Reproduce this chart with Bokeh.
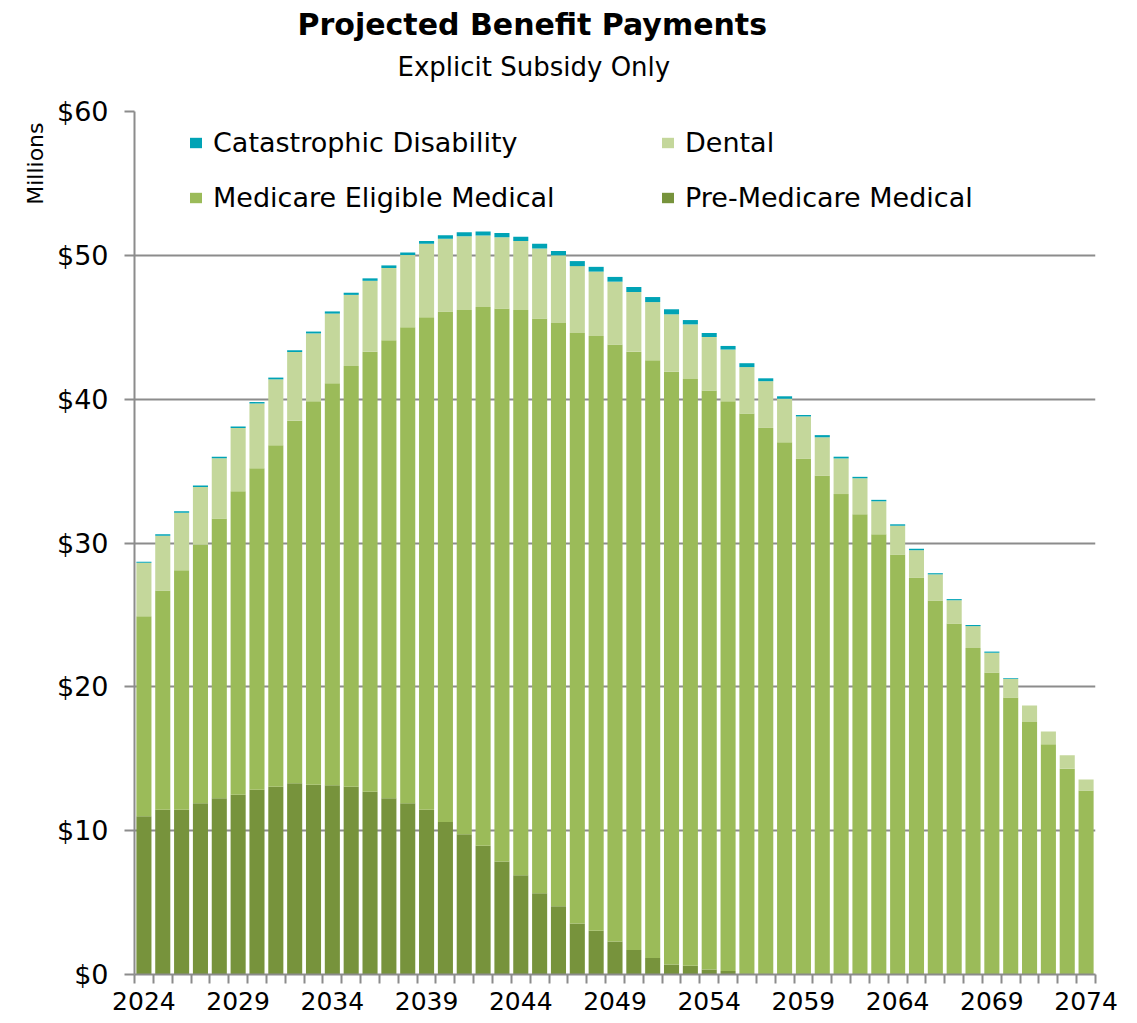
from bokeh.plotting import figure
from bokeh.models import ColumnDataSource, Legend, LegendItem, FixedTicker, NumeralTickFormatter, Title, Range1d
from bokeh.embed import file_html
from bokeh.resources import INLINE

years = list(range(2024, 2075))
pre_medicare = [11.0, 11.45, 11.45, 11.9, 12.25, 12.5, 12.85, 13.05, 13.3, 13.2,
                13.15, 13.05, 12.7, 12.25, 11.9, 11.45, 10.6, 9.75, 8.95, 7.85,
                6.9, 5.65, 4.75, 3.55, 3.05, 2.3, 1.7, 1.15, 0.7, 0.6,
                0.35, 0.25, 0, 0, 0, 0, 0, 0, 0, 0,
                0, 0, 0, 0, 0, 0, 0, 0, 0, 0, 0]
medicare_eligible = [13.9, 15.25, 16.65, 18.0, 19.45, 21.1, 22.35, 23.75, 25.2, 26.65,
                     27.95, 29.25, 30.6, 31.85, 33.1, 34.25, 35.5, 36.45, 37.45, 38.45,
                     39.3, 39.95, 40.55, 41.05, 41.35, 41.5, 41.6, 41.55, 41.2, 40.8,
                     40.25, 39.6, 39.0, 38.0, 37.0, 35.85, 34.7, 33.4, 32.0, 30.6,
                     29.2, 27.6, 26.0, 24.4, 22.7, 21.0, 19.25, 17.55, 16.0, 14.3, 12.8]
dental = [3.72, 3.8, 4.0, 4.0, 4.2, 4.4, 4.5, 4.58, 4.78, 4.72,
          4.85, 4.95, 4.93, 5.02, 5.02, 5.1, 5.05, 5.13, 4.98, 4.95,
          4.8, 4.87, 4.7, 4.65, 4.47, 4.37, 4.15, 4.05, 4.0, 3.8,
          3.72, 3.6, 3.23, 3.25, 3.03, 2.95, 2.65, 2.48, 2.5, 2.3,
          2.0, 1.9, 1.82, 1.62, 1.52, 1.37, 1.3, 1.15, 0.9, 0.95, 0.75]
catastrophic = [0.08, 0.1, 0.1, 0.1, 0.1, 0.1, 0.1, 0.12, 0.12, 0.13,
                0.15, 0.15, 0.17, 0.18, 0.18, 0.2, 0.25, 0.27, 0.27, 0.3,
                0.3, 0.33, 0.3, 0.35, 0.33, 0.33, 0.35, 0.35, 0.35, 0.3,
                0.28, 0.25, 0.27, 0.2, 0.17, 0.1, 0.15, 0.12, 0.1, 0.1,
                0.1, 0.1, 0.08, 0.08, 0.08, 0.08, 0.05, 0, 0, 0, 0]

series_names = ["Pre-Medicare Medical", "Medicare Eligible Medical", "Dental", "Catastrophic Disability"]
colors = ["#77933C", "#9BBB59", "#C4D79B", "#00A3B5"]
x_label_years = [2024, 2029, 2034, 2039, 2044, 2049, 2054, 2059, 2064, 2069, 2074]
y_ticks = [0, 10, 20, 30, 40, 50, 60]

source = ColumnDataSource(dict(year=years, pre=pre_medicare, med=medicare_eligible,
                               dent=dental, cat=catastrophic))

FONT = "DejaVu Sans"
GRAY = "#8C8C8C"

p = figure(width=1137, height=1023, output_backend="svg", toolbar_location=None,
           x_range=Range1d(years[0] - 0.5, years[-1] + 0.5), y_range=Range1d(0, 60),
           min_border_left=134, min_border_right=42, min_border_top=111, min_border_bottom=49)
p.outline_line_color = None
p.background_fill_color = "white"

renderers = p.vbar_stack(["pre", "med", "dent", "cat"], x="year", width=0.8, source=source,
                         fill_color=colors, line_color=None)

# axes
p.xaxis.ticker = FixedTicker(ticks=x_label_years,
                             minor_ticks=[y - 0.5 for y in years] + [years[-1] + 0.5])
p.xaxis.major_tick_line_color = None
p.xaxis.major_tick_out = 0
p.xaxis.major_tick_in = 0
p.xaxis.minor_tick_line_color = GRAY
p.xaxis.minor_tick_line_width = 2
p.xaxis.minor_tick_out = 9
p.xaxis.minor_tick_in = 0
p.xaxis.axis_line_color = GRAY
p.xaxis.axis_line_width = 2
p.xaxis.major_label_text_font = FONT
p.xaxis.major_label_text_font_size = "25px"
p.xaxis.major_label_text_color = "black"
p.xaxis.major_label_standoff = 8

p.yaxis.ticker = FixedTicker(ticks=y_ticks, minor_ticks=[])
p.yaxis.formatter = NumeralTickFormatter(format="$0")
p.yaxis.major_tick_line_color = GRAY
p.yaxis.major_tick_line_width = 2
p.yaxis.major_tick_out = 10
p.yaxis.major_tick_in = 0
p.yaxis.minor_tick_line_color = None
p.yaxis.axis_line_color = GRAY
p.yaxis.axis_line_width = 2
p.yaxis.major_label_text_font = FONT
p.yaxis.major_label_text_font_size = "27px"
p.yaxis.major_label_text_color = "black"
p.yaxis.major_label_standoff = 16

p.xgrid.grid_line_color = None
p.ygrid.grid_line_color = GRAY
p.ygrid.grid_line_width = 2

# legend
order = [3, 2, 1, 0]
items = [LegendItem(label=series_names[i], renderers=[renderers[i]]) for i in order]
legend = Legend(items=items, orientation="horizontal", ncols=2,
                location=(54, 758), padding=0, margin=0,
                glyph_width=15, glyph_height=13, label_standoff=10,
                label_width=430, label_height=38, spacing=17,
                label_text_font=FONT, label_text_font_size="27px",
                label_text_color="black",
                border_line_color=None, background_fill_alpha=0)
p.add_layout(legend, "center")

# titles (spacer, subtitle, main title stacked upward from the plot)
spacer = Title(text=" ", text_font=FONT, text_font_size="1px", standoff=23)
sub = Title(text="Explicit Subsidy Only", align="left", offset=263,
            text_font=FONT, text_font_size="26px", text_font_style="normal",
            text_color="black", standoff=8)
main = Title(text="Projected Benefit Payments", align="left", offset=163,
             text_font=FONT, text_font_size="30px", text_font_style="bold",
             text_color="black", standoff=7)
p.add_layout(spacer, "above")
p.add_layout(sub, "above")
p.add_layout(main, "above")

ylab = Title(text="Millions", align="right", offset=11, text_font=FONT, text_font_size="22px",
             text_font_style="normal", text_color="black", standoff=12)
p.add_layout(ylab, "left")

open("out.html", "w").write(file_html(p, INLINE))
